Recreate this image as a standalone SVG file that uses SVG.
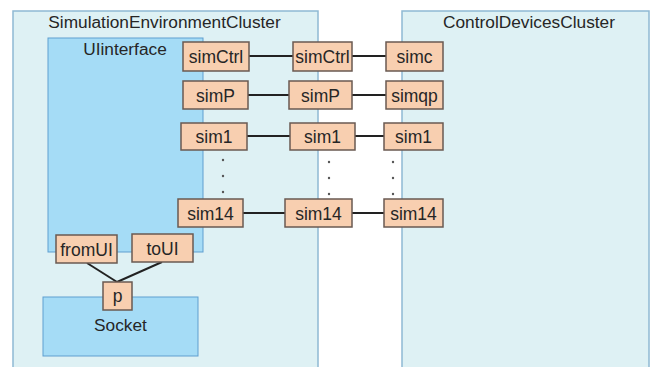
<svg xmlns="http://www.w3.org/2000/svg" width="656" height="367" viewBox="0 0 656 367">
<style>
.cluster{fill:#def1f4;stroke:#8fb9d3;stroke-width:1.5}
.comp{fill:#a5dcf6;stroke:#5f9fcf;stroke-width:1}
.port{fill:#f8cfb0;stroke:#6a5a52;stroke-width:1.5}
.t{font-family:"Liberation Sans",Arial,sans-serif;fill:#262626;text-anchor:middle}
.title{font-size:17.3px}
.pl{font-size:17.5px}
.conn line{stroke:#222;stroke-width:2}
.dot{fill:#555}
</style>
<rect width="656" height="367" fill="#fff"/>
<g id="SimulationEnvironmentCluster">
<rect class="cluster" x="13" y="11" width="305" height="360"/>
<text class="t title" x="164.5" y="28">SimulationEnvironmentCluster</text>
</g>
<g id="ControlDevicesCluster">
<rect class="cluster" x="402" y="11" width="247" height="360"/>
<text class="t title" x="529" y="28">ControlDevicesCluster</text>
</g>
<g id="UIinterface">
<rect class="comp" x="48" y="38" width="155" height="214"/>
<text class="t title" x="125" y="55">UIinterface</text>
</g>
<g id="Socket">
<rect class="comp" x="43" y="297" width="155" height="59"/>
<text class="t title" x="120.5" y="331">Socket</text>
</g>
<g id="connectors">
<g class="conn">
<line x1="249" y1="56" x2="293" y2="56"/>
<line x1="352" y1="56" x2="386" y2="56"/>
<line x1="248" y1="95" x2="289" y2="95"/>
<line x1="352" y1="95" x2="386" y2="95"/>
<line x1="247" y1="136" x2="290" y2="136"/>
<line x1="355" y1="136" x2="384" y2="136"/>
<line x1="243" y1="213" x2="285" y2="213"/>
<line x1="352" y1="213" x2="384" y2="213"/>
<line x1="87" y1="263" x2="117" y2="282"/>
<line x1="162" y1="262" x2="117" y2="282"/>
</g>
</g>
<g id="dots">
<circle class="dot" cx="223" cy="160" r="1.2"/>
<circle class="dot" cx="223" cy="176" r="1.2"/>
<circle class="dot" cx="223" cy="192" r="1.2"/>
<circle class="dot" cx="329" cy="162" r="1.2"/>
<circle class="dot" cx="329" cy="178" r="1.2"/>
<circle class="dot" cx="329" cy="194" r="1.2"/>
<circle class="dot" cx="393" cy="162" r="1.2"/>
<circle class="dot" cx="393" cy="178" r="1.2"/>
<circle class="dot" cx="393" cy="194" r="1.2"/>
</g>
<g id="port-simCtrl-ui"><rect class="port" x="183" y="42" width="66" height="29"/><text class="t pl" x="216" y="63">simCtrl</text></g>
<g id="port-simP-ui"><rect class="port" x="183" y="81" width="65" height="28"/><text class="t pl" x="215.5" y="101.5">simP</text></g>
<g id="port-sim1-ui"><rect class="port" x="181" y="123" width="66" height="27"/><text class="t pl" x="214" y="142.5">sim1</text></g>
<g id="port-sim14-ui"><rect class="port" x="178" y="199" width="65" height="28"/><text class="t pl" x="210.5" y="219.5">sim14</text></g>
<g id="port-simCtrl-mid"><rect class="port" x="293" y="42" width="59" height="29"/><text class="t pl" x="322.5" y="63">simCtrl</text></g>
<g id="port-simP-mid"><rect class="port" x="289" y="81" width="63" height="28"/><text class="t pl" x="320.5" y="101.5">simP</text></g>
<g id="port-sim1-mid"><rect class="port" x="290" y="123" width="65" height="27"/><text class="t pl" x="322.5" y="142.5">sim1</text></g>
<g id="port-sim14-mid"><rect class="port" x="285" y="199" width="67" height="28"/><text class="t pl" x="318.5" y="219.5">sim14</text></g>
<g id="port-simc"><rect class="port" x="386" y="42" width="57" height="29"/><text class="t pl" x="414.5" y="63">simc</text></g>
<g id="port-simqp"><rect class="port" x="386" y="81" width="57" height="28"/><text class="t pl" x="414.5" y="101.5">simqp</text></g>
<g id="port-sim1-cd"><rect class="port" x="384" y="123" width="59" height="27"/><text class="t pl" x="413.5" y="142.5">sim1</text></g>
<g id="port-sim14-cd"><rect class="port" x="384" y="199" width="59" height="28"/><text class="t pl" x="413.5" y="219.5">sim14</text></g>
<g id="port-fromUI"><rect class="port" x="56" y="235" width="61" height="28"/><text class="t pl" x="86.5" y="255.5">fromUI</text></g>
<g id="port-toUI"><rect class="port" x="132" y="234" width="61" height="28"/><text class="t pl" x="162.5" y="254.5">toUI</text></g>
<g id="port-p"><rect class="port" x="103" y="282" width="29" height="28"/><text class="t pl" x="117.5" y="302">p</text></g>
</svg>
